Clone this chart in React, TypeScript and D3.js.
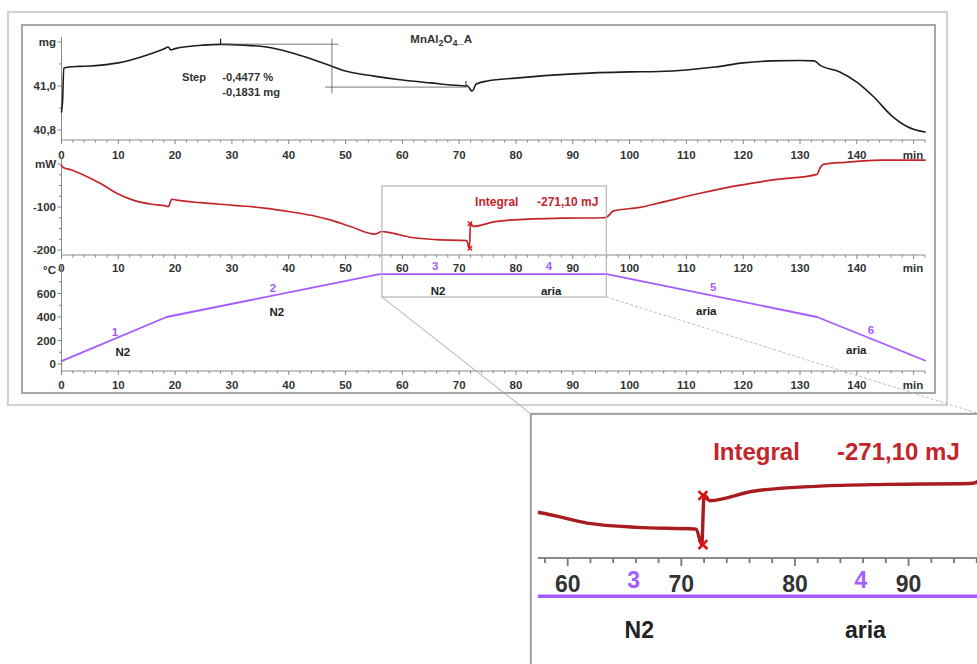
import React from 'react';
import * as d3 from 'd3';

// ---------------- DATA ----------------
const X_TICKS = [0, 10, 20, 30, 40, 50, 60, 70, 80, 90, 100, 110, 120, 130, 140];
const X_UNIT = 'min';

// TG (mass) curve
const MG_TIME = [0, 0.2, 0.4, 3, 5, 7, 10, 14, 18, 18.8, 19.2, 20, 25, 28, 32, 36, 40, 44, 47, 50, 55, 60, 65, 70, 71.5, 72, 72.3, 73, 75, 80, 90, 100, 105, 110, 115, 120, 125, 130, 132.5, 133.5, 137, 140, 143, 146, 149, 152];
const MG_VALUE = [40.882, 40.936, 41.082, 41.089, 41.091, 41.095, 41.105, 41.132, 41.168, 41.177, 41.164, 41.17, 41.186, 41.189, 41.186, 41.177, 41.155, 41.123, 41.095, 41.068, 41.045, 41.027, 41.014, 41.002, 41.0, 40.982, 40.977, 41.009, 41.023, 41.036, 41.055, 41.064, 41.066, 41.073, 41.086, 41.105, 41.114, 41.116, 41.114, 41.095, 41.064, 41.018, 40.95, 40.868, 40.814, 40.791];
const MG_TICKS = [40.8, 41.0, 41.2];
const MG_TICK_LABELS = ['40,8', '41,0', 'mg'];

// DSC (heat flow) curve
const MW_TIME = [0, 0.3, 1.8, 3.3, 6.8, 9.7, 12.6, 15.6, 18.5, 18.8, 19.4, 20.3, 24.4, 30.2, 36.1, 40.2, 44.9, 47.3, 51, 55.2, 56.4, 57.6, 61.7, 66.1, 71.3, 71.8, 72.0, 72.5, 76.3, 82.2, 88.1, 95.4, 95.9, 97.2, 101.8, 105.4, 112.4, 119.5, 125.3, 133, 133.5, 134.1, 138, 144.1, 152];
const MW_VALUE = [-3, -8, -14, -22, -45, -68, -84, -93, -98, -99, -82, -84, -90, -96, -103, -111, -122, -130, -146, -163, -157, -159, -171, -176, -178, -196, -138, -145, -134, -128, -126, -125, -124, -109, -101, -90, -68, -49, -37, -24, -10, -1, 4, 9, 9];
const MW_TICKS = [-200, -100, 0];
const MW_TICK_LABELS = ['-200', '-100', 'mW'];
const INTEGRAL_LIMITS = [{ t: 71.9, v: -139 }, { t: 71.9, v: -196 }];

// Temperature program
const T_TIME = [0, 18.5, 56, 96, 133, 152];
const T_VALUE = [25, 400, 765, 765, 400, 30];
const T_TICKS = [0, 200, 400, 600, 800];
const T_TICK_LABELS = ['0', '200', '400', '600', '°C'];

// Segment annotations (time, °C)
const SEG_NUMBERS = [
  { text: '1', t: 9.4, v: 272 },
  { text: '2', t: 37.2, v: 647 },
  { text: '3', t: 65.8, v: 834 },
  { text: '4', t: 85.8, v: 834 },
  { text: '5', t: 114.7, v: 655 },
  { text: '6', t: 142.5, v: 289 },
];
const SEG_GAS = [
  { text: 'N2', t: 10.8, v: 102 },
  { text: 'N2', t: 37.9, v: 443 },
  { text: 'N2', t: 66.3, v: 621 },
  { text: 'aria', t: 86.2, v: 621 },
  { text: 'aria', t: 113.5, v: 451 },
  { text: 'aria', t: 139.9, v: 119 },
];

// Step evaluation (TG)
const STEP_UPPER = { t0: 27.9, t1: 48.7, v: 41.19 };
const STEP_LOWER = { t0: 46.4, t1: 71.4, v: 40.995 };
const STEP_VERTICAL = { t: 47.6, v0: 41.215, v1: 40.967 };
const STEP_TEXT = ['Step', '-0,4477 %', '-0,1831 mg'];
const INTEGRAL_TEXT = ['Integral', '-271,10 mJ'];
const SAMPLE = ['MnAl', '2', 'O', '4', '_A'];

// Zoom window (time range, mW top, °C bottom)
const ZOOM_T = [56.4, 95.9];
const ZOOM_MW_TOP = -51;
const ZOOM_C_BOTTOM = 570;

// ---------------- LAYOUT ----------------
const W = 977;
const H = 664;
const FONT = '"Liberation Sans", Arial, Helvetica, sans-serif';
const TXT = '#333';
const RED = '#c4242b';
const PURPLE = '#a45bff';
const FS = 11.5;

const x = d3.scaleLinear().domain([0, 152]).range([61.5, 925]);
const yMg = d3.scaleLinear().domain([40.8, 41.2]).range([130, 42]);
const yMw = d3.scaleLinear().domain([-200, 0]).range([250, 164]);
const yT = d3.scaleLinear().domain([0, 800]).range([364, 270]);

const PANELS = [
  { axisY: 140, top: 37, labelY: 155, y: yMg, ticks: MG_TICKS, labels: MG_TICK_LABELS, minor: [40.9, 41.1] },
  { axisY: 255, top: 157, labelY: 268, y: yMw, ticks: MW_TICKS, labels: MW_TICK_LABELS, minor: [-175, -150, -125, -75, -50, -25] },
  { axisY: 371, top: 266, labelY: 385, y: yT, ticks: T_TICKS, labels: T_TICK_LABELS, minor: [100, 300, 500, 700] },
];

const minorX = d3.range(0, 153, 2);
const inWin = (t: number) => t >= ZOOM_T[0] - 1 && t <= ZOOM_T[1] - 1;

function Axes({ inset }: { inset: boolean }) {
  return (
    <g>
      {PANELS.map((p, i) => {
        if (inset && i !== 1) return null;
        return (
          <g key={i}>
            {!inset && <line x1={x(0)} x2={x(0)} y1={p.top} y2={p.axisY} stroke="#8a8a8a" strokeWidth={1} />}
            <line x1={x(0)} x2={x(152)} y1={p.axisY} y2={p.axisY} stroke="#8a8a8a" strokeWidth={1} />
            {minorX.map((t) => (
              <line key={t} x1={x(t)} x2={x(t)} y1={p.axisY} y2={p.axisY + (t % 10 === 0 ? 4 : 2.5)} stroke="#777" strokeWidth={0.9} />
            ))}
            {X_TICKS.filter((t) => !inset || inWin(t)).map((t) => (
              <text key={t} x={x(t)} y={p.labelY} textAnchor="middle" dy="0.35em" fontSize={FS} fontWeight="bold" fill={TXT}>{t}</text>
            ))}
            {!inset && (
              <text x={x(149.9)} y={p.labelY} textAnchor="middle" dy="0.35em" fontSize={FS} fontWeight="bold" fill={TXT}>{X_UNIT}</text>
            )}
            {!inset && p.ticks.map((v, j) => (
              <g key={v}>
                <line x1={x(0) - 4} x2={x(0)} y1={p.y(v)} y2={p.y(v)} stroke="#777" strokeWidth={0.9} />
                <text x={x(0) - 5.5} y={p.y(v)} textAnchor="end" dy="0.35em" fontSize={FS} fontWeight="bold" fill={TXT}>{p.labels[j]}</text>
              </g>
            ))}
            {!inset && p.minor.map((v) => (
              <line key={v} x1={x(0) - 2.5} x2={x(0)} y1={p.y(v)} y2={p.y(v)} stroke="#777" strokeWidth={0.9} />
            ))}
          </g>
        );
      })}
    </g>
  );
}

function Curves({ inset }: { inset: boolean }) {
  const mgLine = d3.line<number>().x((_, i) => x(MG_TIME[i])).y((d) => yMg(d)).curve(d3.curveMonotoneX);
  const mwLine = d3.line<number>().x((_, i) => x(MW_TIME[i])).y((d) => yMw(d)).curve(d3.curveMonotoneX);
  const tLine = d3.line<number>().x((_, i) => x(T_TIME[i])).y((d) => yT(d));
  return (
    <g fill="none" strokeLinejoin="round" strokeLinecap="round">
      {!inset && <path d={mgLine(MG_VALUE) || ''} stroke="#1e1e1e" strokeWidth={1.6} />}
      <path d={mwLine(MW_VALUE) || ''} stroke={inset ? '#a81c20' : RED} strokeWidth={1.7} />
      <path d={tLine(T_VALUE) || ''} stroke={PURPLE} strokeWidth={1.8} />
    </g>
  );
}

function Annotations({ inset }: { inset: boolean }) {
  const s = 2.2;
  return (
    <g fontWeight="bold">
      {!inset && (
        <g>
          <g stroke="#555" strokeWidth={0.8}>
            <line x1={x(STEP_UPPER.t0)} x2={x(STEP_UPPER.t1)} y1={yMg(STEP_UPPER.v)} y2={yMg(STEP_UPPER.v)} />
            <line x1={x(STEP_LOWER.t0)} x2={x(STEP_LOWER.t1)} y1={yMg(STEP_LOWER.v)} y2={yMg(STEP_LOWER.v)} />
            <line x1={x(STEP_VERTICAL.t)} x2={x(STEP_VERTICAL.t)} y1={yMg(STEP_VERTICAL.v0)} y2={yMg(STEP_VERTICAL.v1)} />
            <line x1={x(28)} x2={x(28)} y1={yMg(41.189)} y2={yMg(41.215)} stroke="#222" strokeWidth={1.2} />
            <line x1={x(71.2)} x2={x(71.2)} y1={yMg(41.0)} y2={yMg(41.022)} stroke="#222" strokeWidth={1} />
          </g>
          <text x={x(21.2)} y={yMg(41.041)} dy="0.35em" fontSize={11.2} fill={TXT}>{STEP_TEXT[0]}</text>
          <text x={x(28.3)} y={yMg(41.041)} dy="0.35em" fontSize={11.2} fill={TXT}>{STEP_TEXT[1]}</text>
          <text x={x(28.3)} y={yMg(40.973)} dy="0.35em" fontSize={11.2} fill={TXT}>{STEP_TEXT[2]}</text>
          <text x={x(61.4)} y={yMg(41.214)} dy="0.35em" fontSize={11.5} fill={TXT}>
            {SAMPLE[0]}
            <tspan fontSize={9} dy="3">{SAMPLE[1]}</tspan>
            <tspan dy="-3">{SAMPLE[2]}</tspan>
            <tspan fontSize={9} dy="3">{SAMPLE[3]}</tspan>
            <tspan dy="-3">{SAMPLE[4]}</tspan>
          </text>
        </g>
      )}

      {/* DSC integral */}
      <text x={x(72.8)} y={yMw(-88)} dy="0.35em" fontSize={12} fill={RED}>{INTEGRAL_TEXT[0]}</text>
      <text x={x(83.7)} y={yMw(-88)} dy="0.35em" fontSize={12} fill={RED}>{INTEGRAL_TEXT[1]}</text>
      {INTEGRAL_LIMITS.map((m, i) => (
        <g key={i} stroke="#d11" strokeWidth={1.3}>
          <line x1={x(m.t) - s} x2={x(m.t) + s} y1={yMw(m.v) - s} y2={yMw(m.v) + s} />
          <line x1={x(m.t) - s} x2={x(m.t) + s} y1={yMw(m.v) + s} y2={yMw(m.v) - s} />
        </g>
      ))}

      {/* temperature segments */}
      {SEG_NUMBERS.filter((d) => !inset || inWin(d.t)).map((d, i) => (
        <text key={i} x={x(d.t)} y={yT(d.v)} textAnchor="middle" dy="0.35em" fontSize={FS} fill={PURPLE}>{d.text}</text>
      ))}
      {SEG_GAS.filter((d) => !inset || inWin(d.t)).map((d, i) => (
        <text key={i} x={x(d.t)} y={yT(d.v)} textAnchor="middle" dy="0.35em" fontSize={FS} fill="#222">{d.text}</text>
      ))}
    </g>
  );
}

function Content({ inset }: { inset: boolean }) {
  return (
    <g>
      <Axes inset={inset} />
      <Curves inset={inset} />
      <Annotations inset={inset} />
    </g>
  );
}

export default function App() {
  const zx0 = x(ZOOM_T[0]);
  const zx1 = x(ZOOM_T[1]);
  const zy0 = yMw(ZOOM_MW_TOP);
  const zy1 = yT(ZOOM_C_BOTTOM);
  const k = 2;
  const ox = -237;
  const oy = 48;
  const insetX = k * zx0 + ox + 4;
  const insetY = k * zy0 + oy - 6;
  return (
    <svg width={W} height={H} viewBox={`0 0 ${W} ${H}`} style={{ position: 'absolute', left: 0, top: 0, background: '#fff' }} fontFamily={FONT}>
      <defs>
        <clipPath id="insetClip" clipPathUnits="userSpaceOnUse">
          <rect x={insetX + 7} y={insetY + 2} width={W} height={H} />
        </clipPath>
      </defs>
      <rect x={0} y={0} width={W} height={H} fill="#fff" />
      {/* frames */}
      <rect x={8} y={12} width={939} height={393} fill="#fff" stroke="#d2d2d2" strokeWidth={2.2} />
      <rect x={22} y={25} width={913} height={368} fill="#fff" stroke="#a6a6a6" strokeWidth={2} />

      <Content inset={false} />

      {/* zoom window */}
      <rect x={zx0} y={zy0} width={zx1 - zx0} height={zy1 - zy0} fill="none" stroke="#b5b5b5" strokeWidth={1.2} />
      <line x1={zx0} y1={zy1} x2={insetX} y2={insetY} stroke="#a0a0a0" strokeWidth={0.9} />
      <line x1={zx1} y1={zy1} x2={k * zx1 + ox + 4} y2={insetY} stroke="#b5b5b5" strokeWidth={0.9} strokeDasharray="3,2" />

      {/* inset */}
      <rect x={insetX} y={insetY} width={W} height={H} fill="#fff" stroke="#9d9d9d" strokeWidth={2} />
      <g clipPath="url(#insetClip)">
        <g transform={`translate(${ox},${oy}) scale(${k})`}>
          <Content inset={true} />
        </g>
      </g>
    </svg>
  );
}
